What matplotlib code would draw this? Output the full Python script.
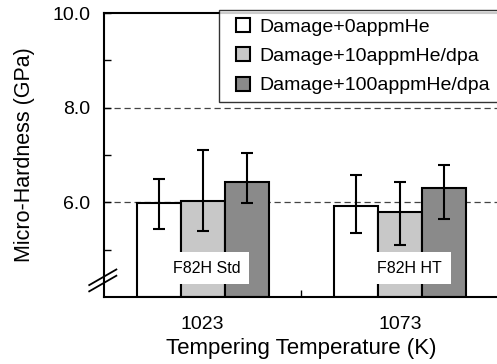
import numpy as np
import matplotlib
matplotlib.use("Agg")
import matplotlib.pyplot as plt
from matplotlib.patches import Rectangle
from matplotlib.container import BarContainer
from matplotlib.legend_handler import HandlerPatch, update_from_first_child

plt.rcParams['font.family'] = ['Liberation Sans', 'DejaVu Sans']

temperatures = ["1023", "1073"]
series_names = ["Damage+0appmHe", "Damage+10appmHe/dpa", "Damage+100appmHe/dpa"]
hardness = [[5.98, 5.93],
            [6.03, 5.79],
            [6.42, 6.31]]
err_low = [[0.55, 0.58],
           [0.63, 0.70],
           [0.44, 0.66]]
err_high = [[0.51, 0.64],
            [1.07, 0.63],
            [0.62, 0.48]]
steel_labels = ["F82H Std", "F82H HT"]
colors = ["white", "#c8c8c8", "#8a8a8a"]

fig = plt.figure(figsize=(4.97, 3.64), dpi=100)
# the right side of the frame runs past the edge of the picture
ax = fig.add_axes([0.2093, 0.184, 0.992, 0.7802])

x = np.arange(1, len(temperatures) + 1)
width = 0.223

# dashed reference lines
for yv in [6.0, 8.0]:
    ax.axhline(yv, color="#444444", lw=0.9, ls=(0, (5, 3)), zorder=0)

for i in range(3):
    pos = x + (i - 1) * width
    ax.bar(pos, np.array(hardness[i]) - 4.0, width, bottom=4.0,
           color=colors[i], edgecolor="black", linewidth=1.5,
           label=series_names[i], zorder=2)
    ax.errorbar(pos, hardness[i], yerr=[err_low[i], err_high[i]],
                fmt="none", ecolor="black", elinewidth=1.5,
                capsize=4.5, capthick=1.5, zorder=3)

# sample labels
label_x = [1.02, 2.05]
for lx, txt in zip(label_x, steel_labels):
    ax.text(lx, 4.61, txt, ha="center", va="center", fontsize=11.5,
            bbox=dict(boxstyle="square,pad=0.55", facecolor="white",
                      edgecolor="none"), zorder=4)

ax.set_xlim(0.5, 3.0)
ax.set_ylim(4.0, 10.0)
ax.set_xticks(x)
ax.set_xticklabels(temperatures, fontsize=14)
ax.set_xticks([1.5], minor=True)
ax.set_yticks([6.0, 8.0, 10.0])
ax.set_yticklabels(["6.0", "8.0", "10.0"], fontsize=14)
ax.set_yticks([5.0, 7.0, 9.0], minor=True)
ax.tick_params(axis="x", which="major", length=0, pad=14)
ax.tick_params(axis="x", which="minor", direction="in", length=5, width=1)
ax.tick_params(axis="y", which="both", direction="in", length=5, width=1, pad=10)

for s in ["left", "bottom", "top"]:
    ax.spines[s].set_linewidth(1.5)
ax.spines["right"].set_visible(False)

ax.set_xlabel("Tempering Temperature (K)", fontsize=16, labelpad=3, x=0.40)
ax.set_ylabel("Micro-Hardness (GPa)", fontsize=15.5, labelpad=12)

# axis break marks
for off in [0.0, 0.022]:
    ax.plot([-0.03, 0.025], [0.02 + off, 0.075 + off], transform=ax.transAxes,
            color="black", lw=1.3, clip_on=False, zorder=5)


# small square at the right end of a wider handle box
def square_patch(legend, orig_handle, xdescent, ydescent, width, height, fontsize):
    return Rectangle((-xdescent + width - height, -ydescent), height, height)


square_handler = HandlerPatch(patch_func=square_patch,
                              update_func=update_from_first_child)
leg = ax.legend(loc="upper left", bbox_to_anchor=(0.233, 1.01), fontsize=14,
                frameon=True, fancybox=False, edgecolor="black",
                handlelength=1.19, handleheight=0.72, handletextpad=0.5,
                labelspacing=0.6, borderpad=0.4, borderaxespad=0,
                handler_map={BarContainer: square_handler})
leg.get_frame().set_linewidth(1.0)

fig.savefig("out.png", dpi=100)
